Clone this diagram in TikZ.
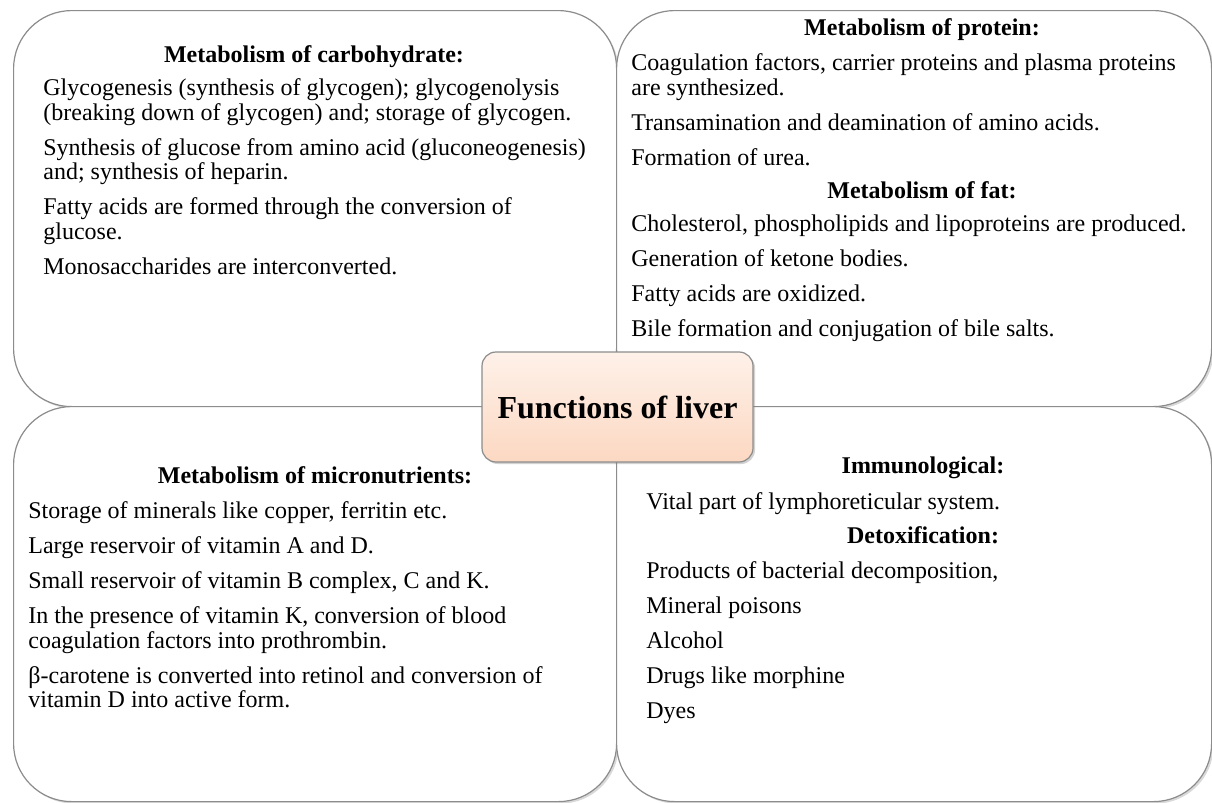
\documentclass[tikz,border=0pt]{standalone}
\usepackage{fontspec}
\setmainfont{Liberation Serif}
\usetikzlibrary{shadows,positioning}

\definecolor{edgegray}{RGB}{140,140,140}
\definecolor{peachtop}{RGB}{254,241,233}
\definecolor{peachbot}{RGB}{252,216,194}
\newcommand{\paragap}{5.25pt}

\tikzset{
 quad/.style={draw=edgegray,line width=0.6pt,fill=white,rounded corners=29pt,
   inner sep=0pt,anchor=north west,
   drop shadow={opacity=0.3,shadow xshift=1pt,shadow yshift=-1pt}},
 head/.style={font=\fontsize{12}{12.25}\selectfont\bfseries,inner sep=0pt,anchor=base},
 body/.style={font=\fontsize{12}{12.25}\selectfont,align=left,inner sep=0pt,anchor=north west},
 hub/.style={draw=edgegray,line width=0.6pt,rounded corners=7pt,
   top color=peachtop,bottom color=peachbot,
   minimum width=135.5pt,minimum height=55pt,
   font=\fontsize{16}{18}\selectfont\bfseries,
   drop shadow={opacity=0.35,shadow xshift=1pt,shadow yshift=-1pt}}
}

\begin{document}
\begin{tikzpicture}
[x=0.5pt,y=-0.5pt]
 \useasboundingbox (0,0) rectangle (1212,803);

 % the four quadrants
 \node (carb)  [quad,minimum width=301.5pt,minimum height=198pt] at (13,10) {};
 \node (prot)  [quad,minimum width=297.5pt,minimum height=198pt] at (616,10) {};
 \node (micro) [quad,minimum width=301.5pt,minimum height=197.5pt] at (13,406) {};
 \node (immu)  [quad,minimum width=297.5pt,minimum height=197.5pt] at (616,406) {};

 % carbohydrate
 \node (carbHead) [head] at (314,62) {Metabolism of carbohydrate:};
 \node (carbBody) [body] at (43,78.5) {Glycogenesis (synthesis of glycogen); glycogenolysis\\
  (breaking down of glycogen) and; storage of glycogen.\\[\paragap]
  Synthesis of glucose from amino acid (gluconeogenesis)\\
  and; synthesis of heparin.\\[\paragap]
  Fatty acids are formed through the conversion of\\
  glucose.\\[\paragap]
  Monosaccharides are interconverted.};

 % protein and fat
 \node (protHead) [head] at (922,35) {Metabolism of protein:};
 \node (protBody) [body] at (631,53.5) {Coagulation factors, carrier proteins and plasma proteins\\
  are synthesized.\\[\paragap]
  Transamination and deamination of amino acids.\\[\paragap]
  Formation of urea.};
 \node (fatHead) [head] at (922,198) {Metabolism of fat:};
 \node (fatBody) [body] at (631,214.5) {Cholesterol, phospholipids and lipoproteins are produced.\\[\paragap]
  Generation of ketone bodies.\\[\paragap]
  Fatty acids are oxidized.\\[\paragap]
  Bile formation and conjugation of bile salts.};

 % micronutrients
 \node (microHead) [head] at (315,483) {Metabolism of micronutrients:};
 \node (microBody) [body] at (28,501.5) {Storage of minerals like copper, ferritin etc.\\[\paragap]
  Large reservoir of vitamin A and D.\\[\paragap]
  Small reservoir of vitamin B complex, C and K.\\[\paragap]
  In the presence of vitamin K, conversion of blood\\
  coagulation factors into prothrombin.\\[\paragap]
  β-carotene is converted into retinol and conversion of\\
  vitamin D into active form.};

 % immunological and detoxification
 \node (immHead) [head] at (923,473) {Immunological:};
 \node (immBody) [body] at (646,492) {Vital part of lymphoreticular system.};
 \node (detoxHead) [head] at (923,543) {Detoxification:};
 \node (detoxBody) [body] at (646,561.5) {Products of bacterial decomposition,\\[\paragap]
  Mineral poisons\\[\paragap]
  Alcohol\\[\paragap]
  Drugs like morphine\\[\paragap]
  Dyes};

 \node (liver) [hub] at (617.5,407) {Functions of liver};
\end{tikzpicture}
\end{document}
